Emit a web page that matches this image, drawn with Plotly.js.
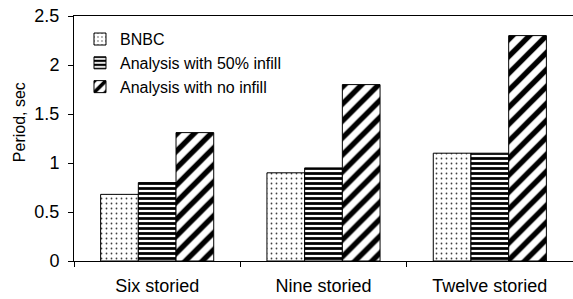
<!DOCTYPE html>
<html>
<head>
<meta charset="utf-8">
<script src="https://cdn.plot.ly/plotly-3.0.1.min.js"></script>
<style>html,body{margin:0;padding:0;background:#fff;}#chart{width:573px;height:299px;}</style>
</head>
<body>
<div id="chart"></div>
<script>
const categories = ["Six storied", "Nine storied", "Twelve storied"];
const seriesNames = ["BNBC", "Analysis with 50% infill", "Analysis with no infill"];
const bnbc = [0.68, 0.90, 1.10];
const infill50 = [0.80, 0.95, 1.10];
const noInfill = [1.31, 1.80, 2.30];
const yTicks = [0, 0.5, 1, 1.5, 2, 2.5];
const yTickText = ["0", "0.5", "1", "1.5", "2", "2.5"];
const yTitle = "Period, sec";

const FONT = "Liberation Sans, Arial, sans-serif";
const patterns = [
  {shape: ".", fgcolor: "#000", bgcolor: "#fff", fgopacity: 0.75, size: 5, solidity: 0.1, fillmode: "overlay"},
  {shape: "-", fgcolor: "#000", bgcolor: "#fff", fgopacity: 1, size: 5, solidity: 0.55, fillmode: "overlay"},
  {shape: "/", fgcolor: "#000", bgcolor: "#fff", fgopacity: 1, size: 12, solidity: 0.45, fillmode: "overlay"}
];
const values = [bnbc, infill50, noInfill];

const traces = values.map((v, i) => ({
  type: "bar",
  name: seriesNames[i],
  x: categories,
  y: v,
  legendgroup: "g" + i,
  marker: {color: "#fff", line: {color: "#000", width: 1}, pattern: patterns[i]}
}));

const layout = {
  width: 573, height: 299,
  margin: {l: 74, r: 0, t: 16, b: 38},
  paper_bgcolor: "#fff", plot_bgcolor: "#fff",
  font: {family: FONT, size: 16, color: "#000"},
  barmode: "group",
  bargap: 0.32,
  bargroupgap: 0,
  showlegend: true,
  legend: {x: 0.012, y: 0.975, xanchor: "left", yanchor: "top", bgcolor: "rgba(0,0,0,0)",
           font: {family: FONT, size: 16, color: "#000"}, tracegroupgap: 4, traceorder: "normal"},
  xaxis: {
    type: "category",
    showline: true, linecolor: "#000", linewidth: 1, mirror: true,
    ticks: "outside", tickson: "boundaries", ticklen: 5, tickcolor: "#000", ticklabelstandoff: 8,
    tickfont: {family: FONT, size: 18, color: "#000"},
    showgrid: false, zeroline: false, fixedrange: true
  },
  yaxis: {
    range: [0, 2.5],
    tickvals: yTicks, ticktext: yTickText,
    showline: true, linecolor: "#000", linewidth: 1,
    ticks: "outside", ticklen: 5, tickcolor: "#000", ticklabelstandoff: 5,
    tickfont: {family: FONT, size: 18, color: "#000"},
    showgrid: false, zeroline: false
  },
  annotations: [{
    text: yTitle, textangle: -90, showarrow: false,
    xref: "paper", yref: "paper", x: -0.11, y: 0.567,
    xanchor: "center", yanchor: "middle",
    font: {family: FONT, size: 16, color: "#000"}
  }]
};

Plotly.newPlot("chart", traces, layout, {displayModeBar: false, staticPlot: true});
</script>
</body>
</html>
